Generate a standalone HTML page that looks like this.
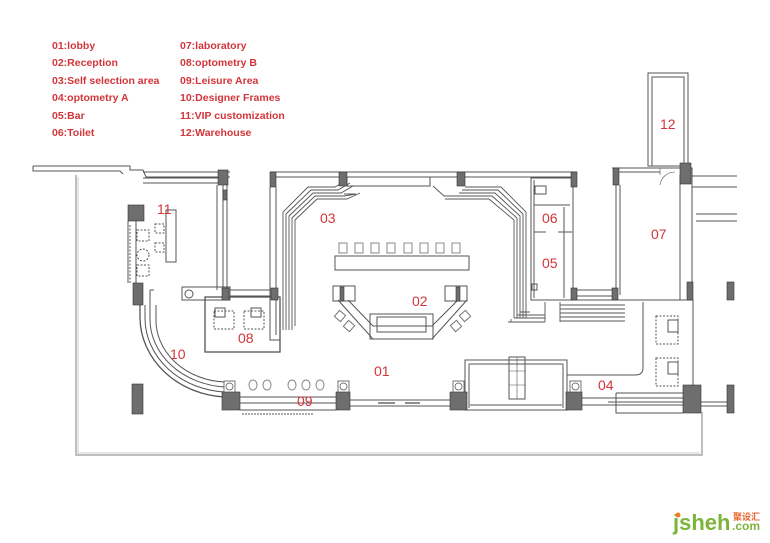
<!DOCTYPE html>
<html><head><meta charset="utf-8"><style>
html,body{margin:0;padding:0;background:#fff;}
svg{display:block;}
.lg{font-family:"Liberation Sans",sans-serif;font-size:10.5px;font-weight:bold;fill:#d2353a;}
.rn{font-family:"Liberation Sans",sans-serif;font-size:14px;fill:#d2353a;}
</style></head><body>
<svg width="770" height="543" viewBox="0 0 770 543" xmlns="http://www.w3.org/2000/svg">
<!-- legend -->
<g class="lg">
<text x="52" y="49">01:lobby</text><text x="52" y="66">02:Reception</text><text x="52" y="84">03:Self selection area</text>
<text x="52" y="101">04:optometry A</text><text x="52" y="119">05:Bar</text><text x="52" y="136">06:Toilet</text>
<text x="180" y="49">07:laboratory</text><text x="180" y="66">08:optometry B</text><text x="180" y="84">09:Leisure Area</text>
<text x="180" y="101">10:Designer Frames</text><text x="180" y="119">11:VIP customization</text><text x="180" y="136">12:Warehouse</text>
</g>
<g fill="none" stroke="#555" stroke-width="1">
<!-- outer boundary -->
<path d="M76,175 V455 H702 V412" stroke="#aaa" stroke-width="1.5"/>
<path d="M78,177 V453 H700" stroke="#ccc"/>
<!-- canopy -->
<path d="M33,166 H130 V170 H143 L146,177 H230"/>
<path d="M33,166 V171 H120 L123,174"/>
<!-- room 11 -->
<path d="M143,172 H230 M143,178 H218 M143,183 H218" />
<path d="M128,221 V283 M136,221 V283 M217,185 V290 M223,185 V288 M227,185 V288"/>
<path d="M150,290 V305 M150,290 H154"/>
<rect x="182" y="287" width="48" height="13"/>
<circle cx="189" cy="294" r="4"/>
<rect x="166" y="210" width="10" height="52"/>
<g stroke-dasharray="2,1.5"><rect x="155" y="224" width="9" height="9"/><rect x="155" y="243" width="9" height="9"/>
<rect x="137" y="230" width="12" height="11"/><circle cx="143" cy="255" r="6"/><rect x="137" y="265" width="12" height="11"/>
<path d="M130,225 V283" /></g>
<!-- room 08 -->
<rect x="205" y="297" width="75" height="55" stroke-width="1.3"/>
<path d="M230,290 H271 M230,296 H271"/>
<g stroke-dasharray="2,1.5"><rect x="214" y="311" width="20" height="18"/><rect x="244" y="311" width="20" height="18"/></g>
<rect x="215" y="308" width="10" height="9"/><rect x="251" y="308" width="10" height="9"/>
<!-- curved wall 10 -->
<path d="M140,305 V318 A90,80 0 0 0 225,397 H240" stroke-width="1.3"/>
<path d="M145,305 V318 A85,74 0 0 0 225,392"/>
<path d="M150,305 V318 A80,68 0 0 0 225,387"/>
<path d="M156,305 V318 A72,62 0 0 0 225,382"/>
<!-- region 03 outer walls -->
<path d="M270,172 H577 M276,177 H571 M276,187 V335 M270,187 V340 H280 V330" />
<path d="M347,177 V186 H430 V177"/>
<!-- stepped lines left -->
<g stroke-width="0.9">
<path d="M283,330 V212 L308,187 H335 L347,180"/>
<path d="M286,330 V214 L311,190 H338 L350,183"/>
<path d="M289,330 V216 L313,193 H341 L353,186"/>
<path d="M292,330 V218 L315,196 H344 L356,194 H344"/>
<path d="M295,326 V220 L317,199 H347 L360,193"/>
<!-- stepped lines right -->
<path d="M526,318 V212 L501,187 H465"/>
<path d="M523,318 V214 L498,190 H462"/>
<path d="M520,318 V216 L495,193 H459"/>
<path d="M517,318 V218 L492,196 H444 L433,186"/>
<path d="M514,318 V220 L489,199 H445"/>
<path d="M514,318 H545 M517,315 H545 M520,312 H530 M508,322 H545 M511,319 V322"/>
<path d="M545,302 V322 M560,302 V322 M560,305 H625 M560,309 H625 M560,313 H625 M560,317 H625 M560,321 H625"/>
</g>
<!-- toilet/bar -->
<rect x="531" y="178" width="42" height="122"/>
<path d="M534,180 V298 M534,205 H570 M534,232 H546 M558,232 H572 M564,207 V298"/>
<rect x="535" y="186" width="11" height="8"/>
<rect x="532" y="284" width="5" height="6"/>
<!-- lab 07 -->
<path d="M612,168 H692 V300 H570 M616,172 H660 M616,172 V300 M620,185 V295 M680,175 V300"/>
<path d="M575,290 H612 M575,296 H612"/>
<path d="M660,168 V175 M675,172 A15,15 0 0 0 660,185" stroke-width="0.6"/>
<!-- warehouse 12 -->
<rect x="648" y="73" width="40" height="93"/>
<rect x="652" y="77" width="32" height="89"/>
<path d="M692,176 H737 M692,187 H737 M696,214 H737 M696,221 H737"/>
<!-- room 04 -->
<path d="M693,300 V385 M643,302 V368 Q643,375 635,375 H567"/>
<g stroke-dasharray="2,1.5"><rect x="656" y="316" width="22" height="28"/><rect x="656" y="358" width="22" height="28"/></g>
<rect x="668" y="320" width="10" height="12"/><rect x="668" y="362" width="10" height="12"/>
<path d="M616,393 H683 M616,393 V413 H683 M608,402 H683" />
<path d="M701,402 H727 M701,406 H727"/>
<!-- facade -->
<path d="M240,397 H336 M240,410 H336 M240,403 H336 M350,400 H450 M350,406 H450 M582,398 H683 M582,405 H683"/>
<path d="M242,414 H314" stroke-dasharray="2,1" />
<path d="M378,403 H395 M405,403 H420" stroke="#222"/>
<!-- entrance box -->
<rect x="465" y="360" width="102" height="50"/>
<path d="M469,364 H563 M469,364 V408 M563,364 V408 M470,405 H562"/>
<rect x="509" y="357" width="16" height="42"/>
<path d="M517,357 V399 M509,371 H525 M509,385 H525" stroke-width="0.6"/>
<!-- circles 09 -->
<g stroke="#888"><ellipse cx="253" cy="385" rx="4" ry="5"/><ellipse cx="267" cy="385" rx="4" ry="5"/><ellipse cx="292" cy="385" rx="4" ry="5"/><ellipse cx="306" cy="385" rx="4" ry="5"/><ellipse cx="320" cy="385" rx="4" ry="5"/></g>
<!-- bar counter 03 -->
<rect x="335" y="256" width="134" height="14"/>
<g stroke="#888"><rect x="339" y="243" width="8" height="10"/><rect x="355" y="243" width="8" height="10"/><rect x="371" y="243" width="8" height="10"/><rect x="387" y="243" width="8" height="10"/><rect x="404" y="243" width="8" height="10"/><rect x="420" y="243" width="8" height="10"/><rect x="436" y="243" width="8" height="10"/><rect x="452" y="243" width="8" height="10"/></g>
<!-- reception 02 -->
<path d="M338,300 L373,339 H432 L467,300 M348,300 L373,326 H432 L458,300"/>
<rect x="370" y="314" width="63" height="25"/><rect x="377" y="317" width="49" height="15"/>
<rect x="333" y="286" width="22" height="15"/><rect x="445" y="286" width="22" height="15"/>
<g stroke="#777"><rect x="336" y="312" width="8" height="8" transform="rotate(40 340 316)"/><rect x="345" y="322" width="8" height="8" transform="rotate(40 349 326)"/><rect x="452" y="322" width="8" height="8" transform="rotate(-40 456 326)"/><rect x="461" y="312" width="8" height="8" transform="rotate(-40 465 316)"/></g>
</g>
<!-- pillars -->
<g fill="#6e6e6e" stroke="#333" stroke-width="0.6">
<rect x="218" y="170" width="10" height="15"/><rect x="128" y="205" width="16" height="16"/><rect x="133" y="283" width="10" height="22"/>
<rect x="222" y="288" width="7" height="12"/><rect x="271" y="288" width="7" height="12"/><rect x="223" y="190" width="4" height="10"/>
<rect x="132" y="384" width="11" height="30"/>
<rect x="270" y="172" width="6" height="15"/><rect x="339" y="172" width="8" height="14"/><rect x="457" y="172" width="8" height="14"/><rect x="571" y="172" width="6" height="15"/>
<rect x="571" y="288" width="6" height="12"/><rect x="612" y="288" width="6" height="12"/>
<rect x="613" y="168" width="6" height="17"/><rect x="680" y="163" width="11" height="21"/><rect x="687" y="282" width="6" height="18"/>
<rect x="727" y="282" width="7" height="18"/><rect x="727" y="385" width="7" height="28"/><rect x="683" y="385" width="18" height="28"/>
<rect x="222" y="392" width="18" height="18"/><rect x="336" y="392" width="14" height="18"/><rect x="450" y="392" width="17" height="18"/><rect x="566" y="392" width="16" height="18"/>
<rect x="340" y="287" width="4" height="14"/><rect x="456" y="287" width="4" height="14"/>
</g>
<g fill="#fff" stroke="#555" stroke-width="0.8">
<rect x="224" y="381" width="11" height="11"/><rect x="338" y="381" width="11" height="11"/><rect x="453" y="381" width="11" height="11"/><rect x="570" y="381" width="11" height="11"/>
</g>
<g fill="none" stroke="#555" stroke-width="0.8"><circle cx="229.5" cy="386.5" r="3.5"/><circle cx="343.5" cy="386.5" r="3.5"/><circle cx="458.5" cy="386.5" r="3.5"/><circle cx="575.5" cy="386.5" r="3.5"/></g>
<!-- room labels -->
<g class="rn">
<text x="157" y="214">11</text><text x="320" y="223">03</text><text x="542" y="223">06</text><text x="542" y="268">05</text>
<text x="651" y="239">07</text><text x="660" y="129">12</text><text x="412" y="306">02</text><text x="238" y="343">08</text>
<text x="170" y="359">10</text><text x="374" y="376">01</text><text x="598" y="390">04</text><text x="297" y="406">09</text>
</g>
<!-- watermark -->
<text x="673" y="530" font-family="Liberation Sans,sans-serif" font-size="22" font-weight="bold" fill="#7db43a">jsheh</text>
<text x="732" y="530" font-family="Liberation Sans,sans-serif" font-size="12" font-weight="bold" fill="#7db43a">.com</text>
<circle cx="678" cy="515" r="2.5" fill="#f07c1e"/>
<text x="733" y="520" font-family="Liberation Sans,'Noto Sans CJK SC',sans-serif" font-size="9" font-weight="bold" fill="#e8632a">聚设汇</text>
</svg>
</body></html>
